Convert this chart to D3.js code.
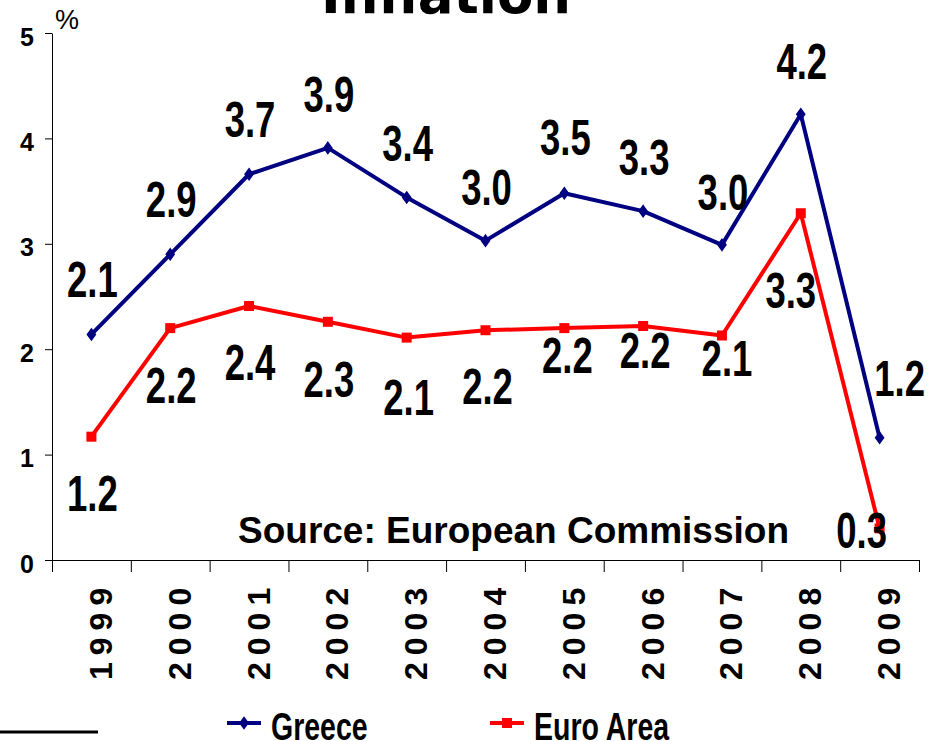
<!DOCTYPE html>
<html>
  <head>
    <meta charset="utf-8">
    <title>Inflation</title>
    <script src="https://d3js.org/d3.v7.min.js"></script>
    <style>
      body { margin: 0; background: #fff; }
      svg { display: block; }
    </style>
  </head>
  <body>
    <script>
      var width = 942;
      var height = 741;

      // data
      var years = ["1999", "2000", "2001", "2002", "2003", "2004", "2005", "2006", "2007", "2008", "2009"];
      var greece = [2.14, 2.9, 3.66, 3.91, 3.44, 3.03, 3.48, 3.31, 2.99, 4.23, 1.16];
      var euroArea = [1.17, 2.2, 2.41, 2.26, 2.11, 2.18, 2.2, 2.22, 2.13, 3.29, 0.3];
      var yTicks = [0, 1, 2, 3, 4, 5];
      var seriesNames = ["Greece", "Euro Area"];

      // label offsets (dx, dy) from each point, hand placed like the original
      var greeceLabelOffsets = [[1, -55], [1, -55], [1, -55], [1, -54], [1, -54], [1, -54], [1, -56], [1, -54], [1, -53], [1, -53], [20, -60]];
      var euroLabelOffsets = [[1, 56], [1, 57], [1, 56], [1, 57], [2, 59], [2, 56], [3, 27], [2, 24], [5, 22], [-10, 77], [-18, 2]];

      // plot area (note: "top" is reserved on window)
      var plotLeft = 52, plotRight = 919, plotTop = 33, plotBottom = 560;
      var navy = "#000080", red = "#ff0000";
      var fmt = d3.format(".1f");

      var svg = d3.select("body").append("svg").attr("width", width).attr("height", height);

      var xScale = d3.scaleLinear().domain([0, years.length]).range([plotLeft, plotRight]);
      var yScale = d3.scaleLinear().domain([0, 5]).range([plotBottom, plotTop]);
      var cx = (d, i) => xScale(i + 0.5);

      // title (cut off at the top like the original)
      svg.append("text")
        .attr("x", 446).attr("y", 13)
        .attr("text-anchor", "middle")
        .attr("font-family", "DejaVu Sans")
        .attr("font-weight", "bold")
        .attr("font-size", 53)
        .text("Inflation");

      // axes
      var axisx = d3.axisBottom(xScale).tickValues(d3.range(years.length + 1)).tickSize(12).tickSizeOuter(0).tickFormat("");
      svg.append("g")
        .attr("transform", "translate(0," + plotBottom + ")")
        .call(axisx)
        .call(g => g.selectAll("line, path").attr("stroke", "#000"));

      var axisy = d3.axisLeft(yScale).tickValues(yTicks).tickFormat(d3.format("d")).tickSize(7).tickSizeOuter(0);
      var gy = svg.append("g")
        .attr("transform", "translate(" + plotLeft + ",0)")
        .call(axisy);
      gy.selectAll("line, path").attr("stroke", "#000");
      gy.selectAll("text")
        .attr("x", -18).attr("dy", 12)
        .attr("fill", "#000")
        .attr("font-family", "Liberation Sans")
        .attr("font-weight", "bold")
        .attr("font-size", 25);

      svg.append("text")
        .attr("x", 55).attr("y", 29)
        .attr("font-family", "Liberation Sans")
        .attr("font-size", 27)
        .text("%");

      // year labels, rotated
      svg.append("g")
        .selectAll("text")
        .data(years)
        .enter()
        .append("text")
        .attr("transform", (d, i) => "translate(" + (cx(d, i) + 20.5) + ",680) rotate(-90)")
        .attr("font-family", "Liberation Sans")
        .attr("font-weight", "bold")
        .attr("font-size", 32)
        .attr("letter-spacing", 7)
        .text(d => d);

      // source
      svg.append("text")
        .attr("x", 238).attr("y", 543)
        .attr("font-family", "Liberation Sans")
        .attr("font-weight", "bold")
        .attr("font-size", 37)
        .text("Source: European Commission");

      var line = d3.line().x((d, i) => cx(d, i)).y(d => yScale(d));
      var diamond = "M0,-5.5L4,0L0,5.5L-4,0Z";

      // series lines
      svg.append("path").datum(greece).attr("d", line)
        .attr("fill", "none").attr("stroke", navy).attr("stroke-width", 4).attr("stroke-linejoin", "round");
      svg.append("path").datum(euroArea).attr("d", line)
        .attr("fill", "none").attr("stroke", red).attr("stroke-width", 4).attr("stroke-linejoin", "round");

      // markers
      svg.append("g").selectAll("path")
        .data(greece).enter().append("path")
        .attr("transform", (d, i) => "translate(" + cx(d, i) + "," + yScale(d) + ")")
        .attr("d", diamond)
        .attr("fill", navy).attr("stroke", navy).attr("stroke-width", 1.5);
      svg.append("g").selectAll("rect")
        .data(euroArea).enter().append("rect")
        .attr("x", (d, i) => cx(d, i) - 5)
        .attr("y", d => yScale(d) - 5)
        .attr("width", 10).attr("height", 10)
        .attr("fill", red);

      // value labels
      function addLabels(values, offsets) {
        svg.append("g").selectAll("g")
          .data(values).enter().append("g")
          .attr("transform", (d, i) => "translate(" + (cx(d, i) + offsets[i][0]) + "," + (yScale(d) + offsets[i][1]) + ")")
          .append("text")
          .attr("transform", "scale(0.73,1)")
          .attr("text-anchor", "middle")
          .attr("dy", 18)
          .attr("font-family", "Liberation Sans")
          .attr("font-weight", "bold")
          .attr("font-size", 50)
          .text(d => fmt(d));
      }
      addLabels(greece, greeceLabelOffsets);
      addLabels(euroArea, euroLabelOffsets);

      // legend
      var legendX = [227, 490];
      var legend = svg.append("g").selectAll("g")
        .data(seriesNames).enter().append("g")
        .attr("transform", (d, i) => "translate(" + legendX[i] + ",723)");
      legend.append("line")
        .attr("x1", 0).attr("x2", 34)
        .attr("stroke", (d, i) => i === 0 ? navy : red)
        .attr("stroke-width", 4);
      legend.filter((d, i) => i === 0).append("path")
        .attr("transform", "translate(17,0)")
        .attr("d", diamond).attr("fill", navy).attr("stroke", navy).attr("stroke-width", 1.5);
      legend.filter((d, i) => i === 1).append("rect")
        .attr("x", 12).attr("y", -5).attr("width", 10).attr("height", 10).attr("fill", red);
      legend.append("text")
        .attr("transform", "translate(44,17) scale(0.75,1)")
        .attr("font-family", "Liberation Sans")
        .attr("font-weight", "bold")
        .attr("font-size", 38)
        .text(d => d);

      // short rule at the bottom left
      svg.append("line")
        .attr("x1", 0).attr("x2", 98).attr("y1", 732).attr("y2", 732)
        .attr("stroke", "#000").attr("stroke-width", 3);
    </script>
  </body>
</html>
